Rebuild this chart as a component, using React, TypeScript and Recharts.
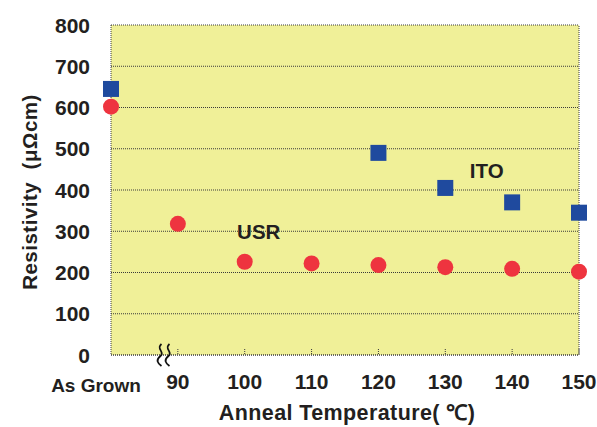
import React from 'react';
import {
  ScatterChart,
  Scatter,
  XAxis,
  YAxis,
  CartesianGrid,
  ReferenceLine,
  ReferenceDot,
  Label,
} from 'recharts';

// ---- data ----
const categories = ['As Grown', '90', '100', '110', '120', '130', '140', '150'];
const xValues = [80, 90, 100, 110, 120, 130, 140, 150];
const itoValues: (number | null)[] = [645, null, null, null, 490, 405, 370, 345];
const usrValues: (number | null)[] = [602, 318, 226, 222, 218, 213, 209, 202];
const yTicks = [0, 100, 200, 300, 400, 500, 600, 700, 800];
const seriesNotes = [
  { name: 'ITO', x: 136.2, y: 446 },
  { name: 'USR', x: 102.1, y: 300 },
];
const breakAt = 88.0;

const itoData = xValues
  .map((x, i) => ({ x, y: itoValues[i] }))
  .filter((d) => d.y != null);
const usrData = xValues
  .map((x, i) => ({ x, y: usrValues[i] }))
  .filter((d) => d.y != null);

const FONT = '"Liberation Sans", Arial, Helvetica, sans-serif';
const TEXT = '#231f20';
const GRID = '#3a3a3a';
const BG = '#f0f098';
const BLUE = '#1f4a9e';
const RED = '#ee343f';
const TICK_MARGIN = 19;

const XTick = (props: any) => {
  const { x, y, payload } = props;
  const i = xValues.indexOf(payload.value);
  const label = categories[i];
  const first = i === 0;
  const axisY = y - TICK_MARGIN;
  return (
    <g>
      {!first && (
        <line x1={x} x2={x} y1={axisY - 6} y2={axisY} stroke={GRID} strokeDasharray="1 1" />
      )}
      <text
        x={first ? x - 15 : x}
        y={first ? y + 5 : y}
        dy="0.71em"
        textAnchor="middle"
        fontFamily={FONT}
        fontWeight="bold"
        fontSize={first ? 19 : 21}
        fill={TEXT}
      >
        {label}
      </text>
    </g>
  );
};

const YTick = (props: any) => {
  const { x, y, payload } = props;
  return (
    <text
      x={x}
      y={y}
      dy="0.36em"
      textAnchor="end"
      fontFamily={FONT}
      fontWeight="bold"
      fontSize={21}
      fill={TEXT}
    >
      {payload.value}
    </text>
  );
};

const Square = (props: any) => {
  const { cx, cy } = props;
  return <rect x={cx - 8} y={cy - 8} width={16} height={16} fill={BLUE} />;
};
const Dot = (props: any) => {
  const { cx, cy } = props;
  return <circle cx={cx} cy={cy} r={8} fill={RED} />;
};

const BreakMark = (props: any) => {
  const { cx, cy } = props;
  const s = (x: number) =>
    `M${x + 1},${cy - 11} C${x - 5},${cy - 6} ${x + 5},${cy - 3} ${x},${cy + 1} C${x - 5},${cy + 5} ${x - 3},${cy + 8} ${x + 1},${cy + 11}`;
  return (
    <g>
      <path d={s(cx - 4)} stroke="#111" strokeWidth={1.8} fill="none" />
      <path d={s(cx + 4)} stroke="#111" strokeWidth={1.8} fill="none" />
    </g>
  );
};

const NoteText = (name: string) => (props: any) => {
  const { cx, cy } = props;
  return (
    <text
      x={cx}
      y={cy}
      dy="0.36em"
      textAnchor="middle"
      fontFamily={FONT}
      fontWeight="bold"
      fontSize={20.5}
      fill={TEXT}
    >
      {name}
    </text>
  );
};

export default function App() {
  return (
    <div style={{ position: 'absolute', left: 0, top: 0, width: 597, height: 427, background: '#fff' }}>
      <ScatterChart width={597} height={427} margin={{ top: 25, right: 18, bottom: 42, left: 51 }}>
        <CartesianGrid
          vertical={false}
          fill={BG}
          stroke={GRID}
          strokeDasharray="1 1"
          fillOpacity={1}
        />
        <XAxis
          type="number"
          dataKey="x"
          domain={[80, 150]}
          ticks={xValues}
          interval={0}
          tickSize={0}
          tickMargin={TICK_MARGIN}
          tickLine={false}
          axisLine={{ stroke: GRID, strokeDasharray: '1 1' }}
          tick={<XTick />}
          height={30}
        >
          <Label
            content={(p: any) => {
              const vb = p.viewBox;
              return (
                <text
                  x={vb.x + vb.width / 2 + 2}
                  y={420}
                  textAnchor="middle"
                  fontFamily={FONT}
                  fontWeight="bold"
                  fontSize={21.5}
                  letterSpacing={0.4}
                  fill={TEXT}
                  style={{ whiteSpace: 'pre' }}
                >
                  {'Anneal Temperature( ℃)'}
                </text>
              );
            }}
          />
        </XAxis>
        <YAxis
          type="number"
          dataKey="y"
          domain={[0, 800]}
          ticks={yTicks}
          interval={0}
          width={60}
          tickSize={0}
          tickMargin={21}
          tickLine={false}
          axisLine={{ stroke: GRID, strokeDasharray: '1 1' }}
          tick={<YTick />}
        >
          <Label
            content={(p: any) => {
              const vb = p.viewBox;
              const cx = vb.x - 22;
              const cy = vb.y + vb.height / 2 + 2;
              return (
                <text
                  transform={`translate(${cx},${cy}) rotate(-90)`}
                  textAnchor="middle"
                  dominantBaseline="central"
                  fontFamily={FONT}
                  fontWeight="bold"
                  fontSize={20.5}
                  letterSpacing={0.5}
                  fill={TEXT}
                  style={{ whiteSpace: 'pre' }}
                >
                  {'Resistivity  (μΩcm)'}
                </text>
              );
            }}
          />
        </YAxis>
        <ReferenceLine x={150} stroke={GRID} strokeDasharray="1 1" />
        <ReferenceDot x={breakAt} y={0} r={0} shape={<BreakMark />} ifOverflow="visible" />
        {seriesNotes.map((n) => (
          <ReferenceDot
            key={n.name}
            x={n.x}
            y={n.y}
            r={0}
            shape={NoteText(n.name)}
            ifOverflow="visible"
          />
        ))}
        <Scatter name="USR" data={usrData} shape={<Dot />} isAnimationActive={false} />
        <Scatter name="ITO" data={itoData} shape={<Square />} isAnimationActive={false} />
      </ScatterChart>
    </div>
  );
}
